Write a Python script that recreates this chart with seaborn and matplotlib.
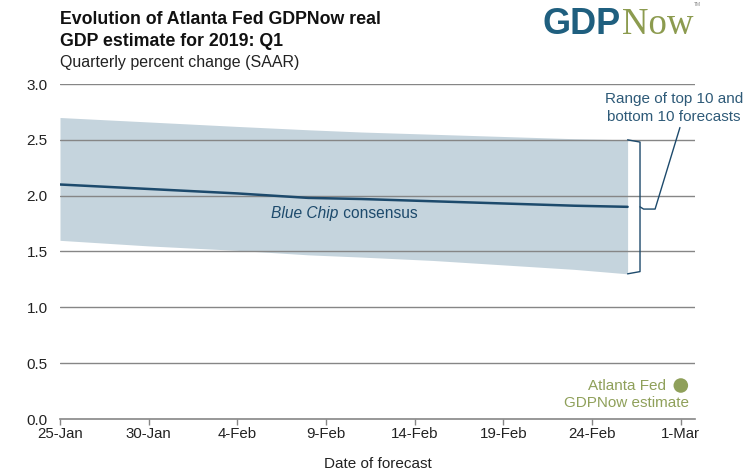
import matplotlib
matplotlib.use("Agg")
import matplotlib.pyplot as plt
import seaborn as sns
import pandas as pd

# ---- data ----
dates = ["2019-01-25", "2019-01-30", "2019-02-04", "2019-02-08", "2019-02-11",
         "2019-02-15", "2019-02-19", "2019-02-23", "2019-02-26"]
blue_chip = [2.10, 2.06, 2.02, 1.98, 1.97, 1.95, 1.93, 1.91, 1.90]
top10 = [2.70, 2.66, 2.62, 2.59, 2.57, 2.55, 2.53, 2.51, 2.50]
bottom10 = [1.60, 1.55, 1.51, 1.47, 1.45, 1.42, 1.38, 1.34, 1.30]
gdpnow_date = ["2019-03-01"]
gdpnow_value = [0.3]
tick_dates = ["2019-01-25", "2019-01-30", "2019-02-04", "2019-02-09", "2019-02-14",
              "2019-02-19", "2019-02-24", "2019-03-01"]
tick_labels = ["25-Jan", "30-Jan", "4-Feb", "9-Feb", "14-Feb", "19-Feb", "24-Feb", "1-Mar"]
y_ticks = [0.0, 0.5, 1.0, 1.5, 2.0, 2.5, 3.0]

df = pd.DataFrame({"date": pd.to_datetime(dates), "blue_chip": blue_chip,
                   "top": top10, "bottom": bottom10})
gdf = pd.DataFrame({"date": pd.to_datetime(gdpnow_date), "value": gdpnow_value})

sns.set_theme(style="white")
plt.rcParams["font.family"] = ["Liberation Sans", "DejaVu Sans"]

W, H = 755, 473
fig = plt.figure(figsize=(W / 100, H / 100), dpi=100)
ax = fig.add_axes([60 / W, 1 - 419 / H, (695 - 60) / W, (419 - 84) / H])

navy = "#1d4a6c"
band = "#c5d4dd"
olive = "#8fa05a"
txt = "#222222"

ax.fill_between(df["date"], df["bottom"], df["top"], color=band, lw=0, zorder=1)
sns.lineplot(data=df, x="date", y="blue_chip", ax=ax, color=navy, lw=1.8, zorder=3)
sns.scatterplot(data=gdf, x="date", y="value", ax=ax, color=olive, s=110,
                edgecolor="none", zorder=4, clip_on=False)

x0 = pd.Timestamp("2019-01-25")
x1 = x0 + pd.Timedelta(days=35.8)
ax.set_xlim(x0, x1)
ax.set_ylim(0, 3.0)

for yv in y_ticks[1:]:
    ax.axhline(yv, color="#868686", lw=1.0, zorder=2)

ax.set_yticks(y_ticks)
ax.set_yticklabels([f"{v:.1f}" for v in y_ticks], fontsize=11, color=txt)
ax.set_xticks(pd.to_datetime(tick_dates))
ax.set_xticklabels(tick_labels, fontsize=10.8, color=txt)
ax.tick_params(axis="y", length=0, pad=9)
ax.tick_params(axis="x", length=4, width=1, color="#868686", direction="out", pad=2,
               bottom=True)
for s in ["top", "right", "left"]:
    ax.spines[s].set_visible(False)
ax.spines["bottom"].set_color("#868686")
ax.spines["bottom"].set_linewidth(1.2)
ax.set_xlabel("Date of forecast", fontsize=11, color=txt, labelpad=11)
ax.set_ylabel("")

# Blue Chip label
split = pd.Timestamp("2019-02-09 17:00")
ax.text(split, 1.84, "Blue Chip", style="italic",
        fontsize=11.2, color=navy, ha="right", va="center")
ax.text(split, 1.84, " consensus",
        fontsize=11.2, color=navy, ha="left", va="center")

# bracket
d_last = pd.Timestamp("2019-02-26")
bx = d_last + pd.Timedelta(days=0.7)
notch = d_last + pd.Timedelta(days=0.9)
tip = d_last + pd.Timedelta(days=1.55)
ax.plot([d_last, bx, bx, d_last], [2.50, 2.48, 1.32, 1.30], color=navy, lw=1.0,
        clip_on=False, zorder=5)
ax.plot([bx, notch, tip, d_last + pd.Timedelta(days=2.95)],
        [1.90, 1.88, 1.88, 2.61], color=navy, lw=1.0, clip_on=False, zorder=5)
ax.text(d_last + pd.Timedelta(days=2.6), 2.785, "Range of top 10 and\nbottom 10 forecasts",
        fontsize=11, color="#2e5a78", ha="center", va="center", linespacing=1.3)

# GDPNow label
ax.text(pd.Timestamp("2019-02-26") - pd.Timedelta(days=0.05), 0.22,
        "Atlanta Fed\nGDPNow estimate", fontsize=11, color=olive,
        ha="center", va="center", linespacing=1.3)

# titles
fig.text(60 / W, 1 - 20 / H, "Evolution of Atlanta Fed GDPNow real",
         fontsize=12.8, fontweight="bold", color="#111111", ha="left", va="center")
fig.text(60 / W, 1 - 42 / H, "GDP estimate for 2019: Q1",
         fontsize=12.8, fontweight="bold", color="#111111", ha="left", va="center")
fig.text(60 / W, 1 - 63 / H, "Quarterly percent change (SAAR)", fontsize=11.5,
         color=txt, ha="left", va="center")

# logo
t1 = fig.text(543 / W, 1 - 25 / H, "GDP", fontsize=26, fontweight="bold",
              color="#1f5f7f", ha="left", va="center")
fig.canvas.draw()
bb = t1.get_window_extent()
fig.text(bb.x1 / W + 1 / W, 1 - 25 / H, "Now", fontsize=26.5, family="Liberation Serif",
         color="#8c9b4f", ha="left", va="center")
fig.text(694 / W, 1 - 4 / H, "TM", fontsize=3.5, color="#888888", ha="left", va="center")

fig.savefig("out.png", dpi=100)
